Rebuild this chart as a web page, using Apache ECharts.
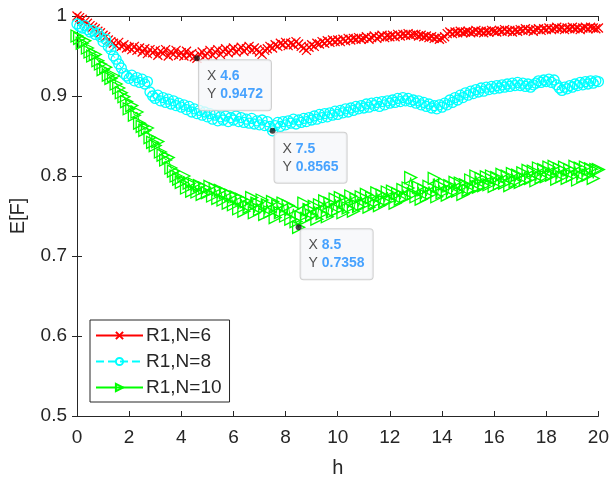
<!DOCTYPE html>
<html>
<head>
<meta charset="utf-8">
<script src="https://cdn.jsdelivr.net/npm/echarts@6/dist/echarts.min.js"></script>
<style>html,body{margin:0;padding:0;background:#fff}#c{width:612px;height:483px}</style>
</head>
<body>
<div id="c"></div>
<script>
// sampling grid h = 0, 0.1, ..., 20
const h = [];
for (let i = 0; i <= 200; i++) h.push(+(i / 10).toFixed(1));

const seriesNames = ['R1,N=6', 'R1,N=8', 'R1,N=10'];

const red = [
1.000,0.998,0.996,0.993,0.991,0.988,0.986,0.984,0.981,0.979,
0.976,0.974,0.970,0.968,0.966,0.963,0.967,0.962,0.964,0.960,
0.961,0.958,0.962,0.957,0.960,0.955,0.959,0.953,0.958,0.954,
0.957,0.951,0.956,0.953,0.958,0.950,0.955,0.952,0.957,0.951,
0.954,0.950,0.956,0.951,0.953,0.949,0.9472,0.952,0.955,0.950,
0.953,0.957,0.951,0.955,0.958,0.952,0.956,0.959,0.954,0.957,
0.960,0.955,0.958,0.961,0.956,0.959,0.962,0.957,0.960,0.958,
0.955,0.952,0.957,0.959,0.962,0.960,0.964,0.962,0.966,0.964,
0.967,0.963,0.966,0.964,0.968,0.965,0.962,0.960,0.957,0.961,
0.964,0.962,0.966,0.965,0.968,0.966,0.969,0.967,0.970,0.968,
0.970,0.968,0.971,0.969,0.972,0.970,0.972,0.971,0.973,0.971,
0.972,0.974,0.971,0.973,0.975,0.972,0.974,0.976,0.973,0.975,
0.974,0.976,0.974,0.977,0.975,0.977,0.976,0.978,0.976,0.977,
0.977,0.975,0.976,0.974,0.975,0.973,0.974,0.972,0.973,0.971,
0.972,0.974,0.978,0.980,0.978,0.980,0.979,0.981,0.979,0.980,
0.981,0.979,0.980,0.982,0.980,0.981,0.979,0.981,0.980,0.982,
0.981,0.980,0.982,0.981,0.983,0.981,0.982,0.980,0.982,0.981,
0.983,0.982,0.984,0.982,0.983,0.981,0.983,0.984,0.982,0.984,
0.983,0.985,0.983,0.984,0.986,0.984,0.985,0.983,0.985,0.984,
0.986,0.984,0.985,0.983,0.985,0.986,0.984,0.986,0.985,0.984,
0.985];

const cyan = [
0.990,0.987,0.985,0.988,0.983,0.980,0.982,0.977,0.979,0.974,
0.968,0.971,0.962,0.958,0.950,0.946,0.940,0.935,0.928,0.925,
0.922,0.926,0.919,0.923,0.917,0.921,0.915,0.918,0.905,0.900,
0.897,0.901,0.894,0.898,0.892,0.896,0.890,0.894,0.888,0.891,
0.886,0.889,0.883,0.887,0.880,0.884,0.878,0.882,0.876,0.880,
0.874,0.878,0.871,0.876,0.869,0.874,0.870,0.875,0.868,0.873,
0.870,0.875,0.868,0.873,0.867,0.871,0.866,0.872,0.865,0.869,
0.864,0.870,0.863,0.868,0.862,0.8565,0.863,0.867,0.862,0.868,
0.864,0.869,0.866,0.871,0.865,0.870,0.867,0.872,0.868,0.873,
0.870,0.875,0.871,0.877,0.873,0.878,0.874,0.879,0.876,0.881,
0.877,0.882,0.879,0.884,0.880,0.885,0.882,0.887,0.884,0.888,
0.885,0.890,0.886,0.891,0.888,0.892,0.887,0.893,0.889,0.894,
0.891,0.895,0.892,0.897,0.893,0.898,0.894,0.897,0.893,0.895,
0.891,0.894,0.889,0.892,0.887,0.890,0.885,0.888,0.884,0.889,
0.886,0.891,0.889,0.895,0.892,0.898,0.895,0.901,0.898,0.904,
0.901,0.906,0.903,0.908,0.905,0.910,0.906,0.911,0.908,0.912,
0.909,0.913,0.910,0.914,0.911,0.915,0.912,0.916,0.913,0.917,
0.913,0.916,0.912,0.915,0.911,0.914,0.916,0.919,0.917,0.920,
0.918,0.921,0.917,0.920,0.914,0.910,0.907,0.911,0.909,0.913,
0.911,0.915,0.913,0.917,0.914,0.918,0.915,0.919,0.916,0.919,
0.918];

const green = [
0.975,0.972,0.966,0.969,0.960,0.955,0.950,0.952,0.944,0.940,
0.933,0.936,0.926,0.922,0.925,0.915,0.910,0.904,0.899,0.893,
0.884,0.888,0.876,0.880,0.866,0.862,0.857,0.860,0.848,0.842,
0.838,0.843,0.830,0.826,0.820,0.823,0.810,0.806,0.800,0.796,
0.792,0.800,0.785,0.791,0.781,0.790,0.780,0.788,0.777,0.785,
0.779,0.787,0.775,0.784,0.772,0.782,0.770,0.779,0.766,0.776,
0.764,0.774,0.759,0.771,0.756,0.768,0.761,0.773,0.754,0.766,
0.758,0.770,0.752,0.764,0.755,0.768,0.748,0.763,0.754,0.766,
0.750,0.763,0.746,0.759,0.743,0.7358,0.749,0.766,0.747,0.758,
0.751,0.762,0.746,0.764,0.753,0.769,0.749,0.766,0.755,0.771,
0.758,0.773,0.754,0.769,0.760,0.775,0.756,0.771,0.762,0.774,
0.764,0.777,0.761,0.773,0.766,0.779,0.763,0.776,0.768,0.780,
0.770,0.781,0.766,0.778,0.771,0.783,0.773,0.785,0.798,0.778,
0.774,0.786,0.771,0.783,0.775,0.787,0.778,0.797,0.774,0.788,
0.779,0.790,0.776,0.788,0.780,0.792,0.781,0.791,0.777,0.789,
0.782,0.795,0.784,0.800,0.786,0.797,0.788,0.799,0.789,0.800,
0.787,0.798,0.790,0.802,0.791,0.800,0.788,0.803,0.793,0.801,
0.792,0.804,0.795,0.807,0.797,0.806,0.794,0.810,0.798,0.808,
0.799,0.811,0.801,0.812,0.796,0.809,0.799,0.811,0.797,0.808,
0.800,0.812,0.795,0.810,0.799,0.811,0.801,0.809,0.797,0.808,
0.808];

// data tips (x positions)
const tipH = [4.6, 7.5, 8.5];

const FONT = '"Liberation Sans", Arial, Helvetica, sans-serif';
const AX = '#262626';
const colors = ['#ff0000', '#00ffff', '#00ff00'];
const symbols = [
  'path://M0,0L10,10M0,10L10,0',
  'circle',
  'path://M0,0L10,5L0,10Z'
];
const symSizes = [9, 10, 12];
const lineTypes = ['solid', 'dashed', 'solid'];
const allData = [red, cyan, green];

const chart = echarts.init(document.getElementById('c'), null, {renderer: 'canvas'});

const lineSeries = allData.map((arr, k) => ({
  name: seriesNames[k],
  type: 'line',
  xAxisIndex: 0, yAxisIndex: 0,
  data: h.map((x, i) => [x, arr[i]]),
  symbol: symbols[k],
  symbolSize: symSizes[k],
  showAllSymbol: true,
  animation: false,
  color: colors[k],
  lineStyle: {color: colors[k], width: 1, type: lineTypes[k]},
  itemStyle: {color: 'rgba(255,255,255,0)', borderColor: colors[k], borderWidth: 1.3},
  emphasis: {disabled: true},
  z: 2 + k
}));

const tipData = tipH.map((x, k) => {
  const idx = Math.round(x * 10);
  return [h[idx], allData[k][idx]];
});

const tipSeries = {
  type: 'scatter',
  xAxisIndex: 0, yAxisIndex: 0,
  data: tipData,
  symbol: 'circle',
  symbolSize: 6,
  itemStyle: {color: '#1a1a1a'},
  animation: false,
  silent: true,
  z: 10,
  label: {
    show: true,
    position: [5, 5],
    align: 'left',
    verticalAlign: 'top',
    fontSize: 14,
    lineHeight: 18,
    fontFamily: FONT,
    formatter: p => '{k|X} {v|' + p.data[0] + '}\n{k|Y} {v|' + p.data[1] + '}',
    backgroundColor: '#f6f7fa',
    borderColor: '#c4c4c4',
    borderWidth: 1,
    borderRadius: 3,
    padding: [7, 8, 7, 8],
    rich: {
      k: {color: '#262626', fontSize: 14, fontFamily: FONT, lineHeight: 18},
      v: {color: '#1a8cff', fontSize: 14, fontWeight: 'bold', fontFamily: FONT, lineHeight: 18}
    }
  }
};

const option = {
  backgroundColor: '#ffffff',
  animation: false,
  grid: {left: 77, right: 13, top: 16, bottom: 67, containLabel: false},
  legend: {
    data: seriesNames,
    orient: 'vertical',
    left: 90, top: 320,
    itemWidth: 47, itemHeight: 9,
    itemGap: 7,
    padding: [6, 8, 5, 5],
    backgroundColor: '#fff',
    borderColor: AX,
    borderWidth: 1,
    borderRadius: 0,
    textStyle: {fontSize: 19, fontFamily: FONT, color: AX, padding: [0, 0, 0, -2]},
    selectedMode: false
  },
  xAxis: [{
    type: 'value', min: 0, max: 20, interval: 2,
    name: 'h', nameLocation: 'middle', nameGap: 42,
    nameTextStyle: {fontSize: 20, fontFamily: FONT, color: AX},
    axisLine: {show: true, lineStyle: {color: AX, width: 1}},
    axisTick: {show: true, inside: true, length: 5, lineStyle: {color: AX}},
    axisLabel: {fontSize: 19, fontFamily: FONT, color: AX, margin: 12},
    splitLine: {show: false}
  }, {
    type: 'value', min: 0, max: 20, interval: 2, position: 'top',
    axisLine: {show: true, lineStyle: {color: AX, width: 1}},
    axisTick: {show: true, inside: true, length: 5, lineStyle: {color: AX}},
    axisLabel: {show: false}, splitLine: {show: false}
  }],
  yAxis: [{
    type: 'value', min: 0.5, max: 1, interval: 0.1,
    name: 'E[F]', nameLocation: 'middle', nameGap: 49, nameRotate: 90,
    nameTextStyle: {fontSize: 20, fontFamily: FONT, color: AX},
    axisLine: {show: true, lineStyle: {color: AX, width: 1}},
    axisTick: {show: true, inside: true, length: 5, lineStyle: {color: AX}},
    axisLabel: {fontSize: 19, fontFamily: FONT, color: AX, margin: 10},
    splitLine: {show: false}
  }, {
    type: 'value', min: 0.5, max: 1, interval: 0.1, position: 'right',
    axisLine: {show: true, lineStyle: {color: AX, width: 1}},
    axisTick: {show: true, inside: true, length: 5, lineStyle: {color: AX}},
    axisLabel: {show: false}, splitLine: {show: false}
  }],
  series: [...lineSeries, tipSeries]
};

chart.setOption(option);
</script>
</body>
</html>
